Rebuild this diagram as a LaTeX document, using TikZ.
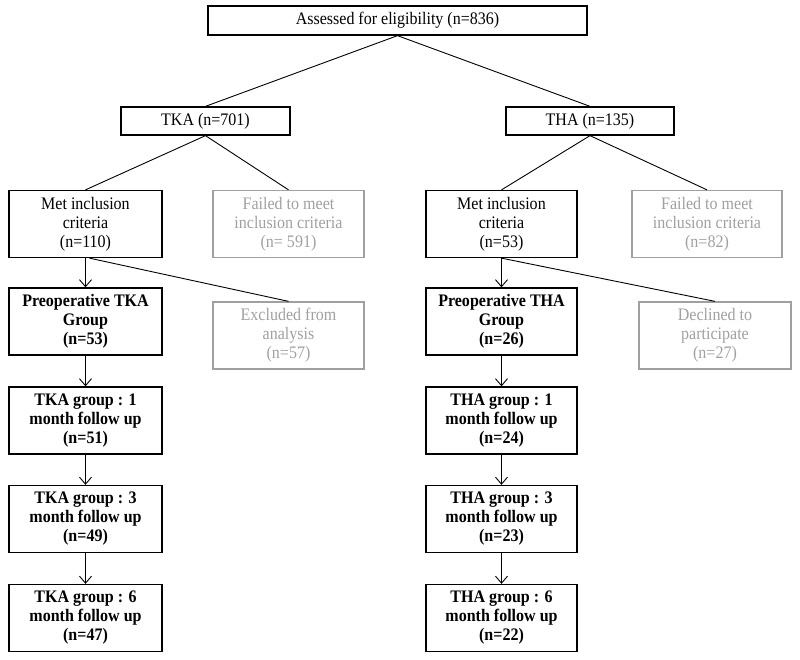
\documentclass[tikz,border=0pt]{standalone}
\usepackage{fontspec}
\setmainfont{Liberation Serif}[FakeStretch=0.91]
\usetikzlibrary{arrows.meta}
\definecolor{lgray}{RGB}{160,160,160}
\begin{document}
\begin{tikzpicture}[x=1pt,y=-1pt,
  box/.style={draw=black,line width=1.3pt,rectangle,inner sep=0pt,align=center,
    font=\fontsize{17.6}{19}\selectfont},
  gbox/.style={box,draw=lgray,text=lgray},
  bbox/.style={box,font=\fontsize{17.6}{19}\selectfont\bfseries},
  link/.style={draw=black,line width=0.9pt},
  arr/.style={link,-{Straight Barb[length=7pt,width=12pt,line width=0.9pt]}}]
\useasboundingbox (0,0) rectangle (800,659);
\node[box,minimum width=379pt,minimum height=29pt] (top) at (397.5,20.5) {Assessed for eligibility (n=836)};
\node[box,minimum width=169pt,minimum height=28pt] (tka) at (205.5,121) {TKA (n=701)};
\node[box,minimum width=168pt,minimum height=28pt] (tha) at (590,121) {THA (n=135)};
% TKA branch
\node[box,minimum width=153pt,minimum height=67pt] (met1) at (85.5,224) {Met inclusion\\criteria\\(n=110)};
\node[gbox,minimum width=151pt,minimum height=67pt] (fail1) at (288.5,224) {Failed to meet\\inclusion criteria\\(n= 591)};
\node[bbox,minimum width=153pt,minimum height=67pt] (pre1) at (85.5,321.5) {Preoperative TKA\\Group\\(n=53)};
\node[gbox,minimum width=151pt,minimum height=67pt] (excl1) at (288.5,335.5) {Excluded from\\analysis\\(n=57)};
\node[bbox,minimum width=153pt,minimum height=67pt] (ka1) at (85.5,420.5) {TKA group : 1\\month follow up\\(n=51)};
\node[bbox,minimum width=153pt,minimum height=67pt] (ka3) at (85.5,519) {TKA group : 3\\month follow up\\(n=49)};
\node[bbox,minimum width=153pt,minimum height=67pt] (ka6) at (85.5,618) {TKA group : 6\\month follow up\\(n=47)};
% THA branch
\node[box,minimum width=151pt,minimum height=67pt] (met2) at (501.5,224) {Met inclusion\\criteria\\(n=53)};
\node[gbox,minimum width=150pt,minimum height=67pt] (fail2) at (707,224) {Failed to meet\\inclusion criteria\\(n=82)};
\node[bbox,minimum width=151pt,minimum height=67pt] (pre2) at (501.5,321.5) {Preoperative THA\\Group\\(n=26)};
\node[gbox,minimum width=152pt,minimum height=67pt] (decl) at (715,335.5) {Declined to\\participate\\(n=27)};
\node[bbox,minimum width=151pt,minimum height=67pt] (ha1) at (501.5,420.5) {THA group : 1\\month follow up\\(n=24)};
\node[bbox,minimum width=151pt,minimum height=67pt] (ha3) at (501.5,519) {THA group : 3\\month follow up\\(n=23)};
\node[bbox,minimum width=151pt,minimum height=67pt] (ha6) at (501.5,618) {THA group : 6\\month follow up\\(n=22)};
% connectors
\draw[link] (top.south) -- (tka.north);
\draw[link] (top.south) -- (tha.north);
\draw[link] (tka.south) -- (met1.north);
\draw[link] (tka.south) -- (fail1.north);
\draw[link] (tha.south) -- (met2.north);
\draw[link] (tha.south) -- (fail2.north);
\draw[link] ([xshift=4pt]met1.south) -- (excl1.north);
\draw[link] (met2.south) -- (decl.north);
\draw[arr] (met1.south) -- (pre1.north);
\draw[arr] (pre1.south) -- (ka1.north);
\draw[arr] (ka1.south) -- (ka3.north);
\draw[arr] (ka3.south) -- (ka6.north);
\draw[arr] (met2.south) -- (pre2.north);
\draw[arr] (pre2.south) -- (ha1.north);
\draw[arr] (ha1.south) -- (ha3.north);
\draw[arr] (ha3.south) -- (ha6.north);
\end{tikzpicture}
\end{document}
